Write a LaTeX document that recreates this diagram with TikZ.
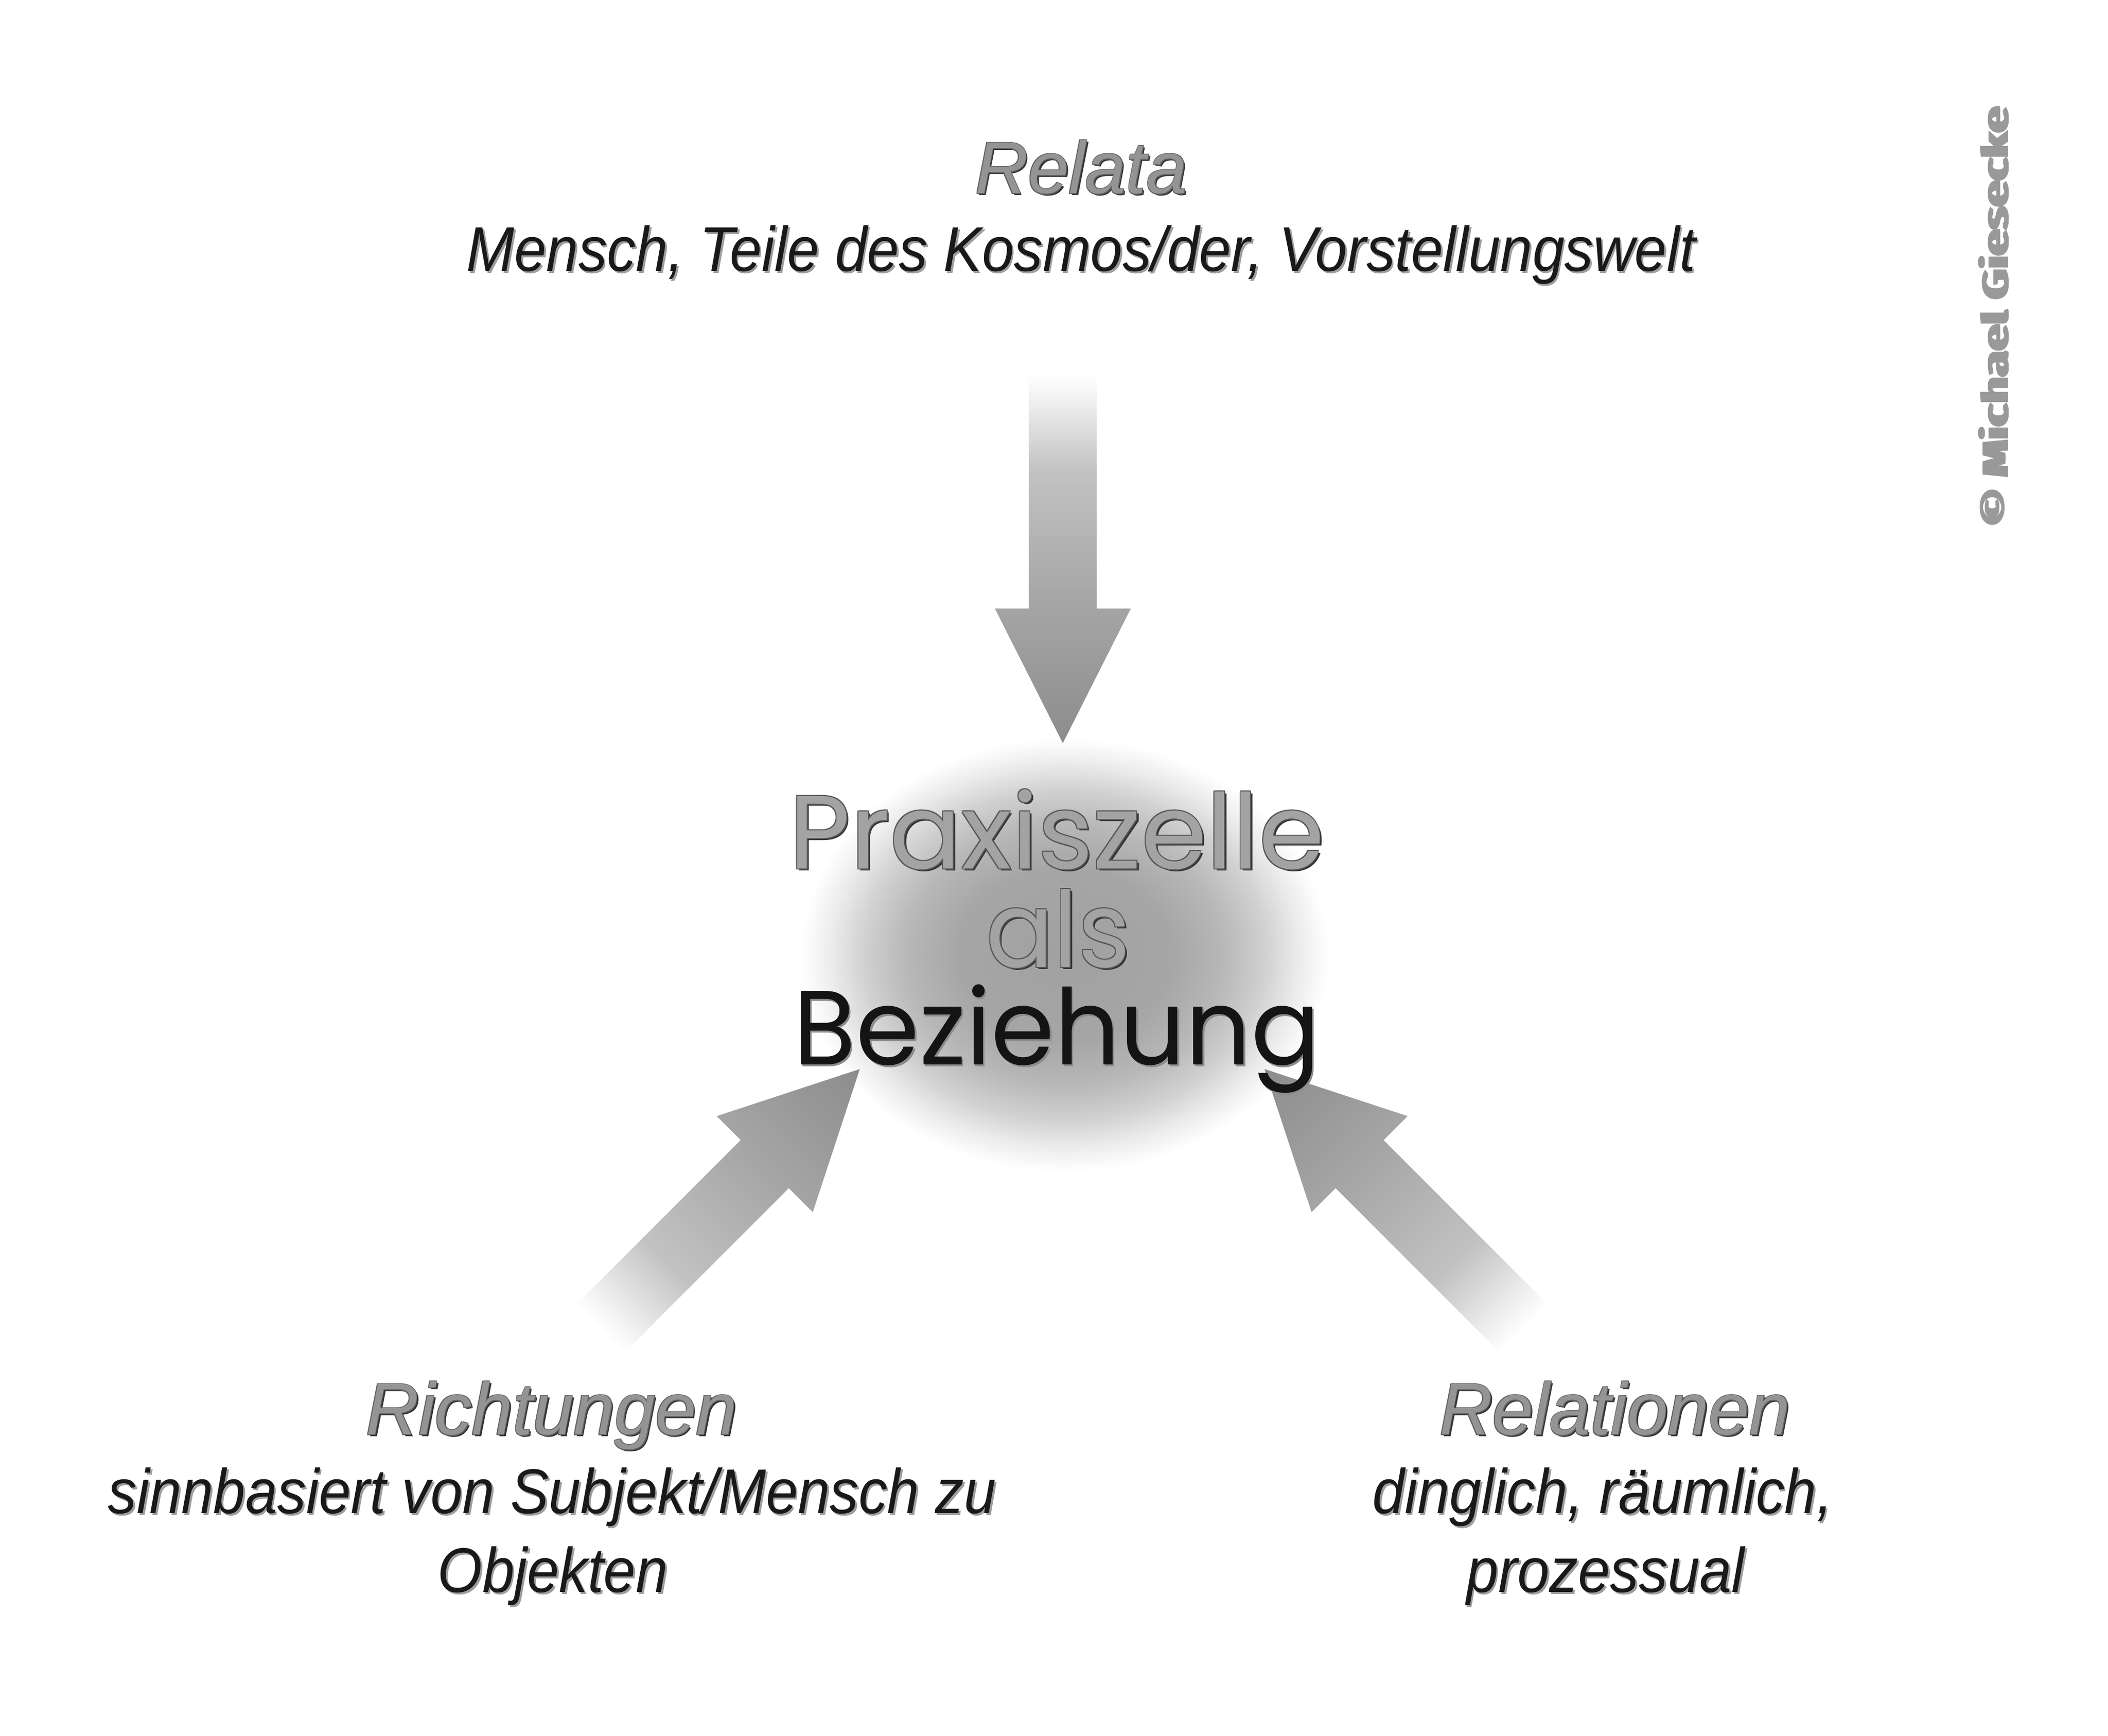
\documentclass[tikz,border=0pt]{standalone}
\usepackage{fontspec}
\setmainfont{Liberation Sans}
\newfontfamily\geofont{Poppins}
\newfontfamily\markfont{Fira Sans}
\usepackage{graphicx}
\usetikzlibrary{shapes.geometric}

% radial shading: the path's edge lies at 25bp
\pgfdeclareradialshading{blobshade}{\pgfpoint{0bp}{0bp}}{color(0bp)=(black!37); color(10bp)=(black!35); color(15bp)=(black!28); color(19bp)=(black!18); color(22bp)=(black!8); color(24.5bp)=(black!1); color(25bp)=(white); color(50bp)=(white)}
\pgfdeclarehorizontalshading{arrowshade}{100bp}{color(0bp)=(white); color(25bp)=(white); color(28bp)=(black!5); color(38bp)=(black!24); color(56bp)=(black!35); color(75bp)=(black!45); color(100bp)=(black!45)}

% text with a drop shadow: #1 shadow colour, #2 text colour, #3 text, #4 offset
\newcommand{\embtext}[4]{\rlap{\kern#4\raisebox{-#4}{\textcolor{#1}{#3}}}\textcolor{#2}{#3}}
% bevelled text: #1 edge colour, #2 fill colour, #3 text, #4 edge offset, #5 shadow offset
\newcommand{\bevtext}[5]{%
  \rlap{\kern#5\raisebox{-#5}{\textcolor{black!80}{#3}}}%
  \rlap{\kern-#4\raisebox{#4}{\textcolor{#1}{#3}}}%
  \rlap{\kern#4\raisebox{#4}{\textcolor{#1}{#3}}}%
  \rlap{\kern-#4\raisebox{-#4}{\textcolor{#1}{#3}}}%
  \rlap{\kern#4\raisebox{-#4}{\textcolor{#1}{#3}}}%
  \textcolor{#2}{#3}}
\newcommand{\headfx}[1]{\bevtext{black!62}{black!42}{#1}{0.55pt}{1.4pt}}
\newcommand{\bodyfx}[1]{\scalebox{0.91}[1]{\embtext{black!38}{black!90}{#1}{1.5pt}}}
\newcommand{\markfx}[1]{\rlap{\kern0.35pt #1}\rlap{\kern-0.35pt #1}#1}

% block arrow: tail at #1, direction #2 (degrees, counter-clockwise)
\newcommand{\fatarrow}[2]{%
  \begin{scope}[transform canvas={shift={(#1)},rotate=#2}]
    \shade[blockarrow] (0,-25) -- (172,-25) -- (172,-50) -- (271,0) -- (172,50) -- (172,25) -- (0,25) -- cycle;
  \end{scope}}

\tikzset{
  blockarrow/.style={shading=arrowshade},
  headtext/.style={anchor=base, inner sep=0pt, font=\itshape\fontsize{54}{60}\selectfont},
  bodytext/.style={anchor=base, inner sep=0pt, font=\itshape\fontsize{46.5}{50}\selectfont},
  centertext/.style={anchor=base, inner sep=0pt, font=\geofont\fontsize{80}{80}\selectfont},
  cellblob/.style={ellipse, inner sep=0pt, minimum width=390pt, minimum height=320pt, shade, shading=blobshade},
}

\begin{document}
\begin{tikzpicture}[x=1pt,y=-1pt]
\useasboundingbox (0,0) rectangle (1552,1277.6);
\fill[white] (0,0) rectangle (1552,1277.6);

% central blob
\node[cellblob] (cell) at (784,703) {};

% arrow tails
\coordinate (topTail) at (782.5,276);
\coordinate (leftTail) at (441.4,978.6);
\coordinate (rightTail) at (1122.6,978.6);

\fatarrow{topTail}{-90}
\fatarrow{leftTail}{45}
\fatarrow{rightTail}{135}

% top label
\node[headtext] (relata) at (796,142.4) {\headfx{Relata}};
\node[bodytext] (relataSub) at (796,199.5) {\bodyfx{Mensch, Teile des Kosmos/der, Vorstellungswelt}};

% lower left label
\node[headtext] (richt) at (406,1056) {\headfx{Richtungen}};
\node[bodytext] (richtSubA) at (406.5,1114) {\bodyfx{sinnbasiert von Subjekt/Mensch zu}};
\node[bodytext] (richtSubB) at (407,1172) {\bodyfx{Objekten}};

% lower right label
\node[headtext] (relat) at (1189,1056) {\headfx{Relationen}};
\node[bodytext] (relatSubA) at (1180,1114) {\bodyfx{dinglich, räumlich,}};
\node[bodytext] (relatSubB) at (1182,1172) {\bodyfx{prozessual}};

% centre text
\node[centertext] (cellA) at (778,639.4) {\resizebox{394pt}{59pt}{\bevtext{black!66}{black!36}{Praxiszelle}{0.7pt}{1.6pt}}};
\node[centertext] (cellB) at (779,712) {\resizebox{106pt}{58pt}{\bevtext{black!66}{black!36}{als}{0.7pt}{1.6pt}}};
\node[centertext] (cellC) at (778,783.8) {\resizebox{388pt}{59pt}{\embtext{black!45}{black!92}{Beziehung}{1.3pt}}};

% copyright
\node[rotate=90, anchor=base, inner sep=0pt, text=black!40] (mark) at (1478.6,233) {\resizebox{309pt}{22pt}{\markfont\bfseries\markfx{© Michael Giesecke}}};
\end{tikzpicture}
\end{document}
